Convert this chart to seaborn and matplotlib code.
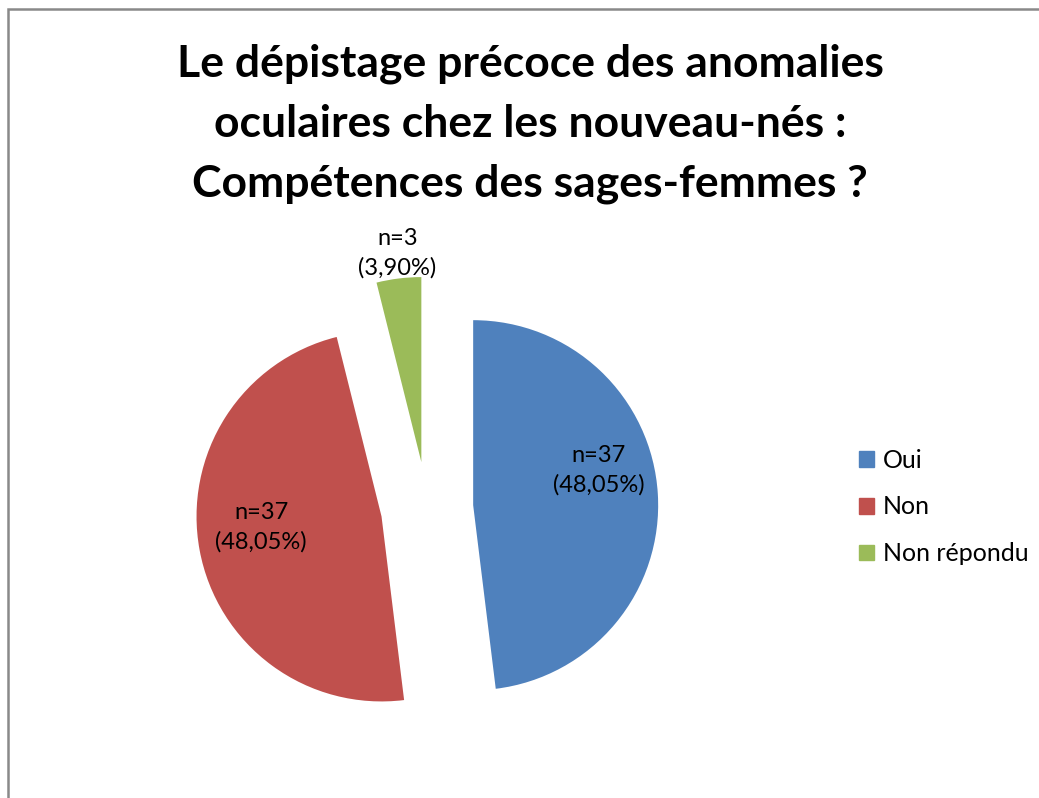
import matplotlib
matplotlib.use("Agg")
import matplotlib.pyplot as plt
import matplotlib.patches as mpatches
import seaborn as sns
import numpy as np

# Data
categories = ["Oui", "Non", "Non répondu"]
counts = [37, 37, 3]
colors = ["#4F81BD", "#C0504D", "#9BBB59"]
title = ("Le dépistage précoce des anomalies\n"
         "oculaires chez les nouveau-nés :\n"
         "Compétences des sages-femmes ?")

sns.set_theme(style="white")
plt.rcParams['font.family'] = ['Lato', 'DejaVu Sans']
plt.rcParams['text.color'] = 'black'

W, H, R = 1039, 798, 185.0
cx, cy = 427, 508

fig = plt.figure(figsize=(W / 100, H / 100), dpi=100)
fig.patch.set_facecolor("white")
ax = fig.add_axes([0, 0, 1, 1])

total = sum(counts)
labels = ["n={}\n({}%)".format(c, f"{c / total * 100:.2f}".replace(".", ",")) for c in counts]

wedges, _ = ax.pie(counts, colors=colors, startangle=90, counterclock=False,
                   explode=[0.25, 0.25, 0.25], radius=1,
                   wedgeprops=dict(linewidth=0))

ax.set_xlim(-cx / R, (W - cx) / R)
ax.set_ylim(-(H - cy) / R, cy / R)
ax.set_aspect("auto")
ax.axis("off")

# label placement relative to each wedge's (exploded) centre
offsets = [(0.68, 0.19), (-0.65, -0.06), (-0.13, 1.13)]
for w, lab, (ox, oy) in zip(wedges, labels, offsets):
    x0, y0 = w.center
    ax.text(x0 + ox, y0 + oy, lab, ha="center", va="center", fontsize=17,
            color="black", linespacing=1.45)

fig.text(530 / W, 1 - 124 / H, title, ha="center", va="center", fontsize=32,
         fontweight="bold", linespacing=1.6, color="black")

handles = [mpatches.Patch(color=c, label=l) for c, l in zip(colors, categories)]
fig.legend(handles=handles, loc="center left", bbox_to_anchor=(859 / W, 1 - 507 / H),
           frameon=False, fontsize=18, handlelength=0.6, handleheight=0.6,
           handletextpad=0.35, labelspacing=0.95, borderpad=0, borderaxespad=0)

# chart frame (cropped at right/bottom)
fig.patches.append(mpatches.Rectangle((7.5 / W, -0.05), 1.1, 1 - 9.5 / H + 0.05,
                                      transform=fig.transFigure, fill=False,
                                      edgecolor="#898989", linewidth=1.8))

fig.savefig("out.png", dpi=100)
